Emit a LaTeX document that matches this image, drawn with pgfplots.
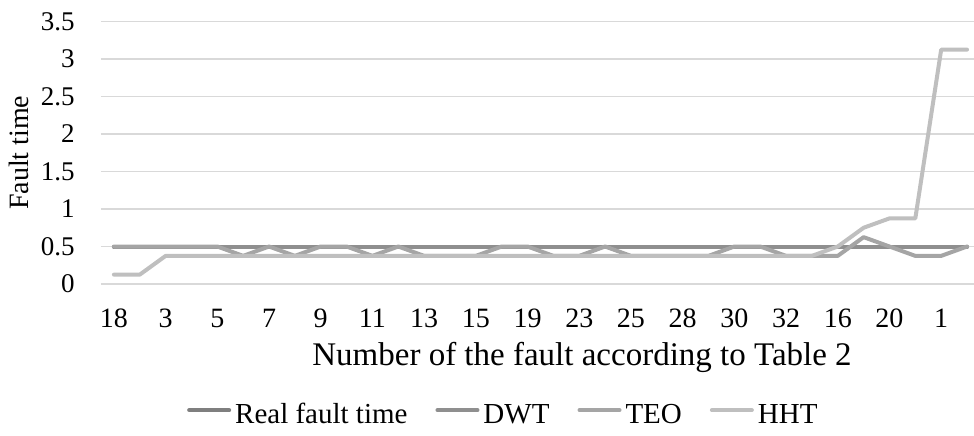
\documentclass[border=0pt]{standalone}
\usepackage{fontspec}
\setmainfont{Liberation Serif}
\usepackage{pgfplots}
\usepackage{pgfplotstable}
\pgfplotsset{compat=1.18}
\definecolor{gridc}{HTML}{D9D9D9}
\definecolor{realc}{HTML}{7F7F7F}
\definecolor{dwtc}{HTML}{8F8F8F}
\definecolor{teoc}{HTML}{A5A5A5}
\definecolor{hhtc}{HTML}{BFBFBF}
\pgfplotstableread{
idx real dwt teo hht
0 0.5 0.5 0.5 0.125
1 0.5 0.5 0.5 0.125
2 0.5 0.5 0.5 0.375
3 0.5 0.5 0.5 0.375
4 0.5 0.5 0.5 0.375
5 0.5 0.5 0.375 0.375
6 0.5 0.5 0.5 0.375
7 0.5 0.5 0.375 0.375
8 0.5 0.5 0.5 0.375
9 0.5 0.5 0.5 0.375
10 0.5 0.5 0.375 0.375
11 0.5 0.5 0.5 0.375
12 0.5 0.5 0.375 0.375
13 0.5 0.5 0.375 0.375
14 0.5 0.5 0.375 0.375
15 0.5 0.5 0.5 0.375
16 0.5 0.5 0.5 0.375
17 0.5 0.5 0.375 0.375
18 0.5 0.5 0.375 0.375
19 0.5 0.5 0.5 0.375
20 0.5 0.5 0.375 0.375
21 0.5 0.5 0.375 0.375
22 0.5 0.5 0.375 0.375
23 0.5 0.5 0.375 0.375
24 0.5 0.5 0.5 0.375
25 0.5 0.5 0.5 0.375
26 0.5 0.5 0.375 0.375
27 0.5 0.5 0.375 0.375
28 0.5 0.5 0.375 0.5
29 0.5 0.5 0.625 0.75
30 0.5 0.5 0.5 0.875
31 0.5 0.5 0.375 0.875
32 0.5 0.5 0.375 3.125
33 0.5 0.5 0.5 3.125
}\faults
\begin{document}
\begin{tikzpicture}
\begin{axis}[
  scale only axis, width=436.5pt, height=131.25pt,
  xmin=-0.5, xmax=33.27, ymin=0, ymax=3.5,
  xtick={0,2,...,32},
  xticklabels={18,3,5,7,9,11,13,15,19,23,25,28,30,32,16,20,1},
  ytick={0,0.5,1,1.5,2,2.5,3,3.5},
  yticklabels={0,0.5,1,1.5,2,2.5,3,3.5},
  ymajorgrids, grid style={color=gridc, line width=0.75pt},
  axis line style={draw=none}, major tick length=0pt,
  yticklabel style={font=\fontsize{13.5}{13.5}\selectfont, anchor=east, inner sep=0pt, xshift=-13pt},
  xticklabel style={font=\fontsize{14}{14}\selectfont, anchor=center, inner sep=0pt, yshift=-17pt},
  xlabel={Number of the fault according to Table 2},
  ylabel={Fault time},
  xlabel style={font=\fontsize{16.5}{16.5}\selectfont, at={(axis description cs:0.551,-0.278)}, anchor=center, inner sep=0pt},
  ylabel style={font=\fontsize{14}{14}\selectfont, at={(axis description cs:-0.0939,0.5)}, anchor=center, inner sep=0pt},
  clip=false,
  legend columns=4,
  legend style={draw=none, fill=none, at={(axis description cs:0.462,-0.505)}, anchor=center,
    font=\fontsize{14.5}{14.5}\selectfont, inner sep=0pt,
    nodes={text height=0.68em, text depth=0.02em},
    /tikz/every even column/.append style={column sep=12pt}},
  legend image code/.code={\draw[#1] (0pt,0.32em) -- (20pt,0.32em);},
  every axis plot/.append style={line width=2pt, line cap=round, line join=round},
]
\addplot[realc] table[x=idx, y=real] {\faults};
\addlegendentry{Real fault time}
\addplot[dwtc] table[x=idx, y=dwt] {\faults};
\addlegendentry{DWT}
\addplot[teoc] table[x=idx, y=teo] {\faults};
\addlegendentry{TEO}
\addplot[hhtc] table[x=idx, y=hht] {\faults};
\addlegendentry{HHT}
\end{axis}
\pgfresetboundingbox
\path (-50.5pt,-75.5pt) rectangle (436.5pt,142pt);
\end{tikzpicture}
\end{document}
